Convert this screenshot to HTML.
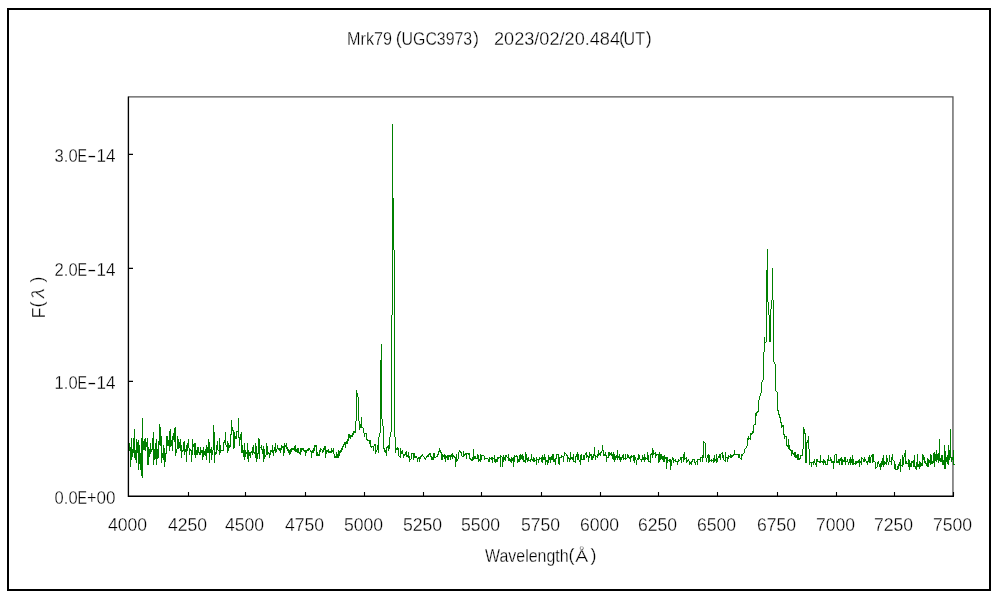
<!DOCTYPE html>
<html lang="ja">
<head>
<meta charset="utf-8">
<title>Mrk79 (UGC3973) 2023/02/20.484(UT)</title>
<style>
html,body{margin:0;padding:0;background:#fff;}
body{width:1000px;height:600px;overflow:hidden;}
svg{display:block;will-change:transform;}
text{font-family:"Liberation Sans", "IPAGothic", sans-serif;font-size:18px;fill:#000;stroke:#fff;stroke-width:0.3px;paint-order:fill stroke;}
.cjk{font-family:"IPAGothic","Noto Sans CJK JP",sans-serif;}
.ang{font-size:19.5px;}
</style>
</head>
<body>
<svg width="1000" height="600" viewBox="0 0 1000 600">
<rect x="0" y="0" width="1000" height="600" fill="#fff"/>
<rect x="8" y="9" width="982" height="581" fill="none" stroke="#000" stroke-width="2"/>
<path d="M128.40 96.90 H952.95 V496.0" fill="none" stroke="#555" stroke-width="1.3"/>
<path fill="none" stroke="#008000" stroke-width="1" shape-rendering="crispEdges" d="M128.5 439.0V450.0M129.5 443.0V451.0M130.5 447.0V467.0M131.5 438.0V460.0M132.5 449.0V457.0M133.5 438.0V453.0M134.5 429.0V458.0M135.5 450.0V460.0M136.5 439.0V463.0M137.5 441.5V453.0M138.5 439.5V470.0M139.5 445.0V464.0M140.5 453.0V470.0M141.5 438.0V476.0M142.5 418.0V478.0M143.5 441.0V450.0M144.5 438.5V450.0M145.5 438.0V451.0M146.5 442.0V447.0M147.5 438.0V465.0M148.5 447.0V465.0M149.5 449.0V457.0M150.5 443.0V454.0M151.5 449.0V452.0M152.5 438.0V450.0M153.5 432.0V465.0M154.5 449.0V460.0M155.5 443.0V459.0M156.5 439.0V465.0M157.5 449.0V459.0M158.5 441.0V458.0M159.5 424.0V445.0M160.5 427.0V446.0M161.5 436.0V463.0M162.5 453.0V458.0M163.5 445.0V460.0M164.5 448.0V467.0M165.5 453.0V462.0M166.5 436.0V454.0M167.5 436.0V446.0M168.5 440.0V446.0M169.5 431.0V451.0M170.5 429.0V447.0M171.5 440.0V446.0M172.5 436.0V451.0M173.5 433.0V440.0M174.5 428.0V442.0M175.5 427.0V456.0M176.5 449.0V453.0M177.5 436.0V449.0M178.5 439.0V449.0M179.5 442.0V448.0M180.5 439.0V451.0M181.5 445.0V458.0M182.5 450.0V452.0M183.5 442.0V451.0M184.5 441.0V455.0M185.5 449.0V452.0M186.5 445.0V461.5M187.5 443.0V451.0M188.5 439.0V448.0M189.5 448.0V454.5M190.5 449.0V451.0M191.5 450.0V461.5M192.5 439.0V455.0M193.5 444.0V447.0M194.5 443.0V455.0M195.5 443.0V457.5M196.5 450.0V455.0M197.5 447.0V455.0M198.5 447.0V453.0M199.5 452.0V454.5M200.5 447.0V454.5M201.5 450.0V453.0M202.5 450.0V459.5M203.5 447.0V457.0M204.5 451.0V455.0M205.5 449.0V456.0M206.5 445.0V459.5M207.5 447.0V453.0M208.5 439.0V453.0M209.5 442.0V462.5M210.5 449.0V453.0M211.5 447.0V459.5M212.5 450.0V455.0M213.5 425.0V450.0M214.5 432.0V462.5M215.5 452.0V455.0M216.5 445.0V454.0M217.5 441.0V450.0M218.5 450.0V451.0M219.5 438.0V455.0M220.5 445.0V453.0M221.5 450.0V451.0M222.5 450.0V451.0M223.5 441.5V450.5M224.5 440.0V442.5M225.5 432.0V445.0M226.5 445.0V446.5M227.5 441.0V453.0M228.5 443.0V450.5M229.5 445.0V448.0M230.5 434.0V447.0M231.5 420.0V435.0M232.5 427.0V431.0M233.5 430.0V448.5M234.5 432.0V447.5M235.5 436.0V439.0M236.5 431.0V438.5M237.5 431.0V432.0M238.5 418.0V438.0M239.5 437.0V445.5M240.5 434.0V440.0M241.5 432.0V453.0M242.5 445.0V453.0M243.5 450.0V457.0M244.5 443.0V459.5M245.5 450.0V457.0M246.5 452.0V454.0M247.5 443.0V459.0M248.5 450.0V461.5M249.5 452.0V456.0M250.5 452.0V457.5M251.5 451.0V452.5M252.5 447.0V454.5M253.5 445.0V453.0M254.5 452.0V453.5M255.5 443.0V458.0M256.5 446.0V461.5M257.5 453.0V459.0M258.5 438.0V453.5M259.5 439.0V459.0M260.5 447.0V448.0M261.5 445.0V449.5M262.5 449.0V453.5M263.5 445.5V461.5M264.5 449.0V459.0M265.5 455.0V457.0M266.5 443.0V455.0M267.5 446.0V454.5M268.5 452.0V453.5M269.5 453.0V458.0M270.5 450.0V454.5M271.5 450.0V451.5M272.5 445.0V453.0M273.5 450.0V455.5M274.5 447.0V451.0M275.5 443.0V452.5M276.5 449.0V451.5M277.5 445.0V449.0M278.5 448.0V450.0M279.5 448.0V451.0M280.5 448.0V452.5M281.5 445.0V450.0M282.5 446.0V448.0M283.5 446.0V455.5M284.5 443.0V453.0M285.5 445.0V447.0M286.5 443.0V449.0M287.5 447.0V451.0M288.5 449.0V453.0M289.5 450.0V454.5M290.5 449.0V454.0M291.5 448.0V452.0M292.5 447.5V449.5M293.5 448.0V450.0M294.5 445.5V451.0M295.5 445.0V452.0M296.5 449.0V452.0M297.5 448.0V452.5M298.5 447.5V452.5M299.5 452.0V454.0M300.5 447.5V454.5M301.5 447.5V452.0M302.5 447.5V450.0M303.5 448.0V451.0M304.5 449.5V452.0M305.5 450.0V455.5M306.5 449.5V452.5M307.5 449.0V451.0M308.5 448.0V450.5M309.5 447.5V450.0M310.5 449.5V451.5M311.5 450.5V457.5M312.5 450.0V452.5M313.5 448.0V452.5M314.5 445.0V451.0M315.5 445.0V446.5M316.5 445.0V455.5M317.5 452.0V455.5M318.5 454.0V455.5M319.5 449.5V455.5M320.5 448.0V452.0M321.5 448.5V450.0M322.5 449.5V452.5M323.5 447.5V452.0M324.5 446.0V450.0M325.5 445.5V457.5M326.5 450.0V454.0M327.5 450.0V452.0M328.5 448.5V452.5M329.5 451.0V452.5M330.5 451.0V452.5M331.5 447.5V452.5M332.5 450.0V452.0M333.5 448.0V454.0M334.5 454.0V457.5M335.5 455.5V457.5M336.5 452.0V457.5M337.5 454.0V457.5M338.5 450.0V457.5M339.5 450.5V455.5M340.5 450.0V452.5M341.5 448.0V452.0M342.5 446.0V450.0M343.5 444.0V447.0M344.5 441.5V445.0M345.5 442.0V447.5M346.5 441.0V444.0M347.5 439.0V443.5M348.5 434.0V441.0M349.5 434.0V438.0M350.5 434.5V438.5M351.5 435.0V437.0M352.5 432.5V436.5M353.5 431.0V435.0M354.5 431.0V432.5M355.5 421.0V432.5M356.5 390.0V421.0M357.5 393.0V397.0M358.5 397.0V421.0M359.5 421.0V429.5M360.5 424.0V427.5M361.5 417.0V427.5M362.5 427.0V428.0M363.5 427.5V433.0M364.5 433.0V436.5M365.5 432.5V434.0M366.5 432.5V439.5M367.5 438.5V441.0M368.5 439.5V441.0M369.5 440.0V443.5M370.5 439.5V447.0M371.5 445.5V447.5M372.5 445.5V447.0M373.5 445.5V450.5M374.5 444.0V446.0M375.5 444.0V454.0M376.5 449.5V452.0M377.5 445.0V450.0M378.5 436.5V452.5M379.5 433.0V437.0M380.5 360.0V433.0M381.5 344.0V419.0M382.5 419.0V426.0M383.5 426.0V448.5M384.5 448.0V451.5M385.5 450.0V453.0M386.5 447.0V455.5M387.5 446.0V447.5M388.5 445.0V450.5M389.5 436.5V448.5M390.5 431.5V436.5M391.5 315.0V431.5M392.5 124.0V315.0M393.5 198.0V250.0M394.5 250.0V436.5M395.5 436.5V452.5M396.5 447.5V450.0M397.5 447.0V450.0M398.5 447.5V456.0M399.5 455.5V457.0M400.5 448.0V457.5M401.5 450.5V454.0M402.5 450.0V454.0M403.5 453.5V457.5M404.5 454.0V455.5M405.5 452.0V455.0M406.5 450.5V457.0M407.5 454.5V457.0M408.5 452.0V458.0M409.5 456.0V461.5M410.5 458.5V460.0M411.5 452.5V459.0M412.5 452.5V454.0M413.5 452.5V459.5M414.5 452.5V457.5M415.5 456.0V457.5M416.5 455.5V458.0M417.5 457.5V461.5M418.5 457.0V459.0M419.5 456.5V461.5M420.5 455.5V459.0M421.5 455.0V456.5M422.5 454.0V456.0M423.5 455.5V457.0M424.5 456.5V458.5M425.5 457.5V459.5M426.5 456.0V458.0M427.5 454.5V456.5M428.5 454.0V457.0M429.5 453.0V454.5M430.5 452.5V456.5M431.5 455.5V459.5M432.5 456.5V459.5M433.5 453.0V459.5M434.5 452.5V457.5M435.5 456.5V457.5M436.5 455.5V457.0M437.5 454.0V456.5M438.5 451.0V454.5M439.5 447.5V451.5M440.5 449.5V453.0M441.5 452.0V459.5M442.5 454.0V459.5M443.5 455.0V457.0M444.5 454.0V459.0M445.5 454.5V461.5M446.5 455.5V457.5M447.5 454.5V459.5M448.5 455.0V459.5M449.5 455.0V457.0M450.5 455.0V459.5M451.5 454.0V457.0M452.5 452.5V459.0M453.5 455.0V457.0M454.5 456.0V457.5M455.5 456.5V466.5M456.5 454.0V461.5M457.5 459.0V461.0M458.5 451.5V459.0M459.5 450.0V452.0M460.5 450.5V452.5M461.5 452.0V456.0M462.5 455.5V457.0M463.5 450.5V457.0M464.5 454.0V455.5M465.5 453.0V454.5M466.5 452.5V459.0M467.5 452.5V454.0M468.5 452.5V455.0M469.5 453.0V459.0M470.5 457.5V459.5M471.5 459.0V461.0M472.5 457.0V461.0M473.5 448.5V459.5M474.5 456.0V459.0M475.5 455.5V459.0M476.5 458.0V459.0M477.5 454.0V458.5M478.5 454.5V461.5M479.5 459.0V460.5M480.5 454.0V461.5M481.5 455.0V459.5M482.5 455.1V456.1M483.5 455.2V456.2M484.5 455.5V459.5M485.5 458.0V459.2M486.5 458.0V459.2M487.5 458.0V459.2M488.5 459.0V461.8M489.5 457.0V461.5M490.5 457.5V459.0M491.5 457.0V460.0M492.5 457.2V462.8M493.5 457.5V459.0M494.5 455.2V461.8M495.5 459.0V462.8M496.5 458.5V461.5M497.5 457.0V461.5M498.5 457.0V459.0M499.5 457.0V458.0M500.5 455.2V466.8M501.5 455.5V457.0M502.5 456.5V466.8M503.5 455.2V461.5M504.5 457.0V460.0M505.5 455.2V461.2M506.5 455.2V457.0M507.5 456.5V458.0M508.5 454.2V461.0M509.5 458.0V461.0M510.5 459.0V461.8M511.5 457.0V462.8M512.5 458.0V461.0M513.5 457.0V466.8M514.5 455.2V461.5M515.5 455.5V457.0M516.5 455.2V456.5M517.5 455.8V462.8M518.5 459.0V461.8M519.5 454.5V461.5M520.5 454.0V459.5M521.5 454.8V458.5M522.5 454.2V459.5M523.5 455.5V461.8M524.5 459.5V461.5M525.5 452.0V462.8M526.5 454.0V459.5M527.5 458.0V461.5M528.5 457.0V461.0M529.5 459.5V461.0M530.5 459.0V461.5M531.5 454.0V460.0M532.5 459.0V461.0M533.5 457.0V461.5M534.5 457.5V461.5M535.5 459.5V460.5M536.5 457.0V464.8M537.5 459.0V460.0M538.5 459.0V462.8M539.5 457.0V459.5M540.5 457.5V459.0M541.5 457.0V461.8M542.5 455.2V462.8M543.5 457.0V459.5M544.5 454.2V459.5M545.5 457.0V464.8M546.5 460.0V461.5M547.5 459.5V464.8M548.5 455.2V462.8M549.5 457.0V460.0M550.5 457.0V462.8M551.5 456.0V460.0M552.5 454.0V460.0M553.5 454.0V461.5M554.5 458.5V461.5M555.5 458.0V464.8M556.5 454.0V458.5M557.5 454.0V455.0M558.5 454.0V464.0M559.5 456.5V464.8M560.5 456.5V457.5M561.5 455.2V457.5M562.5 456.1V457.1M563.5 456.2V461.8M564.5 452.0V456.2M565.5 452.8V454.2M566.5 454.0V455.5M567.5 454.5V461.8M568.5 457.0V459.0M569.5 458.0V461.8M570.5 452.0V460.0M571.5 457.0V458.5M572.5 457.0V460.0M573.5 454.2V461.5M574.5 460.5V461.5M575.5 456.0V462.8M576.5 454.0V457.0M577.5 452.2V459.8M578.5 454.2V459.8M579.5 459.8V461.8M580.5 455.0V464.8M581.5 454.2V459.8M582.5 458.8V459.8M583.5 455.2V459.8M584.5 455.2V459.8M585.5 453.0V455.2M586.5 452.2V457.8M587.5 455.2V457.0M588.5 456.0V461.8M589.5 452.2V458.0M590.5 454.2V456.0M591.5 454.2V459.8M592.5 456.0V459.8M593.5 454.2V458.0M594.5 447.2V455.5M595.5 455.2V459.8M596.5 456.0V457.0M597.5 454.2V457.8M598.5 450.2V455.5M599.5 453.0V455.0M600.5 452.2V455.5M601.5 451.2V453.2M602.5 445.2V451.2M603.5 450.0V455.8M604.5 454.2V455.5M605.5 452.2V455.8M606.5 455.2V461.8M607.5 456.9V457.9M608.5 452.2V457.8M609.5 452.2V456.0M610.5 453.0V454.5M611.5 452.2V456.0M612.5 454.2V458.5M613.5 452.2V459.8M614.5 454.2V461.8M615.5 456.0V459.8M616.5 455.2V458.0M617.5 450.2V459.8M618.5 456.0V458.0M619.5 454.2V460.2M620.5 457.0V461.8M621.5 457.0V459.8M622.5 455.2V458.0M623.5 454.2V459.8M624.5 458.0V459.0M625.5 454.2V459.8M626.5 458.0V459.0M627.5 454.2V458.0M628.5 455.2V458.0M629.5 457.0V459.0M630.5 456.0V461.8M631.5 455.2V457.8M632.5 456.0V457.0M633.5 455.2V461.0M634.5 455.2V462.8M635.5 457.0V459.8M636.5 459.8V464.8M637.5 458.0V459.8M638.5 454.2V459.8M639.5 455.2V459.0M640.5 458.8V459.8M641.5 458.8V461.8M642.5 455.2V459.8M643.5 457.0V459.8M644.5 454.2V461.8M645.5 457.0V459.8M646.5 458.0V459.0M647.5 452.2V459.8M648.5 455.2V461.8M649.5 461.0V462.0M650.5 454.2V462.8M651.5 453.0V454.5M652.5 448.2V457.8M653.5 450.2V455.0M654.5 453.0V454.2M655.5 452.2V457.8M656.5 454.2V456.0M657.5 454.1V455.1M658.5 454.2V462.8M659.5 452.2V461.8M660.5 454.2V459.8M661.5 454.2V459.0M662.5 456.0V459.8M663.5 456.0V461.8M664.5 455.2V461.8M665.5 457.0V459.0M666.5 457.0V468.8M667.5 457.0V462.8M668.5 459.8V460.8M669.5 459.2V462.0M670.5 459.2V469.8M671.5 459.8V465.8M672.5 457.0V459.8M673.5 458.0V462.8M674.5 460.0V461.0M675.5 459.2V461.5M676.5 460.8V461.8M677.5 461.0V464.8M678.5 459.2V461.8M679.5 460.0V461.0M680.5 457.2V460.0M681.5 457.2V462.8M682.5 457.0V458.0M683.5 454.0V461.8M684.5 452.2V459.8M685.5 457.8V459.0M686.5 457.2V462.8M687.5 460.0V461.8M688.5 459.2V461.0M689.5 461.0V464.8M690.5 461.8V463.8M691.5 461.0V464.8M692.5 459.2V461.8M693.5 459.2V460.2M694.5 459.2V462.8M695.5 462.0V464.8M696.5 461.0V462.0M697.5 459.2V464.8M698.5 459.0V460.0M699.5 459.0V460.0M700.5 457.2V461.8M701.5 457.0V458.0M702.5 455.2V461.8M703.5 441.0V457.8M704.5 441.8V443.0M705.5 443.0V458.0M706.5 457.8V461.8M707.5 455.2V458.0M708.5 454.0V462.8M709.5 455.2V461.8M710.5 460.0V461.0M711.5 459.2V461.8M712.5 460.0V461.0M713.5 458.2V462.8M714.5 455.2V461.8M715.5 459.2V461.0M716.5 454.0V462.8M717.5 457.8V461.8M718.5 456.0V457.8M719.5 454.0V457.8M720.5 454.0V459.8M721.5 453.2V454.2M722.5 452.2V457.8M723.5 455.0V459.8M724.5 459.8V461.0M725.5 452.2V461.8M726.5 457.0V458.0M727.5 457.0V461.8M728.5 455.2V458.8M729.5 456.0V457.0M730.5 454.2V457.8M731.5 455.2V457.8M732.5 455.0V456.8M733.5 454.0V455.8M734.5 450.2V454.8M735.5 453.9V454.9M736.5 453.9V454.9M737.5 454.0V455.0M738.5 454.2V457.8M739.5 454.2V457.8M740.5 457.8V459.0M741.5 454.2V459.8M742.5 454.0V455.8M743.5 452.8V454.0M744.5 449.0V452.8M745.5 448.0V449.0M746.5 446.0V448.0M747.5 438.2V446.0M748.5 436.2V439.5M749.5 437.5V439.0M750.5 433.0V439.8M751.5 432.5V434.5M752.5 431.0V433.5M753.5 424.5V433.0M754.5 424.2V425.2M755.5 413.0V425.0M756.5 412.0V416.0M757.5 411.0V412.5M758.5 400.0V411.5M759.5 395.5V400.0M760.5 393.0V395.5M761.5 382.0V393.0M762.5 380.0V382.0M763.5 352.0V380.0M764.5 337.0V352.0M765.5 341.5V342.5M766.5 270.0V342.0M767.5 249.0V302.0M768.5 302.0V314.5M769.5 314.5V342.0M770.5 309.0V342.0M771.5 299.5V309.0M772.5 268.0V299.5M773.5 299.5V361.5M774.5 361.5V363.5M775.5 363.5V390.5M776.5 390.5V392.0M777.5 392.0V411.0M778.5 410.0V414.5M779.5 414.0V417.5M780.5 417.0V422.5M781.5 422.0V428.0M782.5 425.0V427.0M783.5 425.0V435.0M784.5 434.0V439.0M785.5 436.0V437.0M786.5 436.0V446.0M787.5 445.0V447.0M788.5 439.0V449.0M789.5 445.0V449.5M790.5 449.0V450.5M791.5 450.0V456.0M792.5 450.0V454.0M793.5 453.0V454.5M794.5 452.0V457.0M795.5 452.0V458.0M796.5 455.0V457.5M797.5 454.0V460.0M798.5 454.0V460.0M799.5 458.0V459.5M800.5 455.0V459.0M801.5 455.0V456.0M802.5 449.0V456.0M803.5 427.0V449.0M804.5 428.5V433.5M805.5 433.0V462.5M806.5 442.0V462.5M807.5 440.0V442.5M808.5 436.0V449.0M809.5 449.0V465.0M810.5 462.0V463.0M811.5 462.0V466.8M812.5 462.0V463.0M813.5 461.0V464.8M814.5 459.2V463.0M815.5 463.0V464.8M816.5 459.2V466.8M817.5 459.2V462.0M818.5 461.0V462.0M819.5 461.0V462.8M820.5 455.2V462.8M821.5 461.0V462.0M822.5 461.0V463.0M823.5 459.2V464.8M824.5 460.2V463.0M825.5 461.0V464.8M826.5 463.8V464.8M827.5 459.2V464.8M828.5 455.2V460.5M829.5 459.5V460.8M830.5 457.2V461.0M831.5 459.2V462.8M832.5 461.0V462.8M833.5 461.0V468.8M834.5 455.0V462.8M835.5 454.0V455.2M836.5 454.2V462.8M837.5 461.0V462.5M838.5 459.2V463.0M839.5 459.2V464.8M840.5 458.0V461.0M841.5 457.2V464.8M842.5 459.2V464.8M843.5 460.0V462.0M844.5 457.2V462.0M845.5 457.2V464.8M846.5 460.5V462.0M847.5 459.2V462.0M848.5 462.0V464.8M849.5 459.2V463.0M850.5 457.2V464.8M851.5 459.2V463.0M852.5 455.2V464.8M853.5 459.2V464.8M854.5 463.0V464.0M855.5 461.0V464.8M856.5 461.0V464.0M857.5 461.0V462.5M858.5 460.2V462.5M859.5 459.2V466.8M860.5 461.0V463.0M861.5 457.2V464.8M862.5 458.0V459.2M863.5 459.2V461.8M864.5 457.2V461.8M865.5 459.2V461.0M866.5 461.0V462.8M867.5 461.0V464.8M868.5 457.2V462.0M869.5 455.2V462.8M870.5 457.2V462.8M871.5 455.0V457.2M872.5 454.0V462.8M873.5 454.2V461.5M874.5 461.0V462.0M875.5 462.0V468.8M876.5 467.0V468.0M877.5 462.0V467.0M878.5 461.0V464.0M879.5 464.0V466.8M880.5 463.0V469.8M881.5 461.0V466.8M882.5 458.0V464.8M883.5 455.2V466.8M884.5 461.0V464.8M885.5 462.0V464.0M886.5 455.2V464.8M887.5 458.0V462.0M888.5 462.0V464.8M889.5 455.2V462.0M890.5 461.0V462.0M891.5 457.2V464.8M892.5 454.2V459.8M893.5 459.8V461.0M894.5 461.0V468.8M895.5 464.0V469.8M896.5 468.8V469.8M897.5 466.0V469.8M898.5 464.0V468.8M899.5 462.0V466.0M900.5 459.2V471.8M901.5 465.0V466.0M902.5 455.2V466.8M903.5 456.8V464.8M904.5 453.2V456.8M905.5 450.2V464.0M906.5 461.0V464.0M907.5 463.0V464.0M908.5 459.2V466.8M909.5 460.0V469.5M910.5 463.0V467.0M911.5 461.0V466.5M912.5 461.0V463.0M913.5 460.0V466.5M914.5 455.0V466.5M915.5 466.0V469.0M916.5 462.0V469.5M917.5 454.0V467.0M918.5 464.0V466.5M919.5 461.0V468.5M920.5 462.0V466.5M921.5 463.0V466.0M922.5 454.0V466.0M923.5 455.0V460.0M924.5 457.0V463.0M925.5 461.0V464.0M926.5 463.0V466.0M927.5 457.5V466.5M928.5 459.0V466.5M929.5 460.0V463.0M930.5 454.0V464.5M931.5 455.0V464.0M932.5 461.0V464.0M933.5 453.0V463.0M934.5 452.0V466.5M935.5 454.0V461.0M936.5 450.0V461.5M937.5 454.0V460.0M938.5 453.0V462.5M939.5 439.0V461.0M940.5 458.0V461.5M941.5 455.0V462.0M942.5 455.0V464.5M943.5 460.0V465.0M944.5 445.0V468.5M945.5 451.0V468.5M946.5 457.0V462.0M947.5 455.0V464.0M948.5 445.0V464.5M949.5 450.0V460.0M950.5 429.0V458.0M951.5 457.0V462.0M952.5 457.0V460.0M953.5 450.0V464.5M954.5 463.5V464.5"/>
<path d="M128.40 96.5 V496.2 H954.0" fill="none" stroke="#000" stroke-width="1.35"/>
<path d="M188.5 496.2 v-4.3M245.5 496.2 v-4.3M305.5 496.2 v-4.3M364.5 496.2 v-4.3M423.5 496.2 v-4.3M481.5 496.2 v-4.3M541.5 496.2 v-4.3M600.5 496.2 v-4.3M658.5 496.2 v-4.3M717.5 496.2 v-4.3M777.5 496.2 v-4.3M836.5 496.2 v-4.3M894.5 496.2 v-4.3M953.5 496.2 v-4.3M128.4 381.4 h4.6M128.4 268.4 h4.6M128.4 154.4 h4.6" fill="none" stroke="#000" stroke-width="1.1"/>
<text x="107.9" y="531" textLength="39.2" lengthAdjust="spacingAndGlyphs">4000</text>
<text x="167.9" y="531" textLength="39.2" lengthAdjust="spacingAndGlyphs">4250</text>
<text x="224.9" y="531" textLength="39.2" lengthAdjust="spacingAndGlyphs">4500</text>
<text x="284.9" y="531" textLength="39.2" lengthAdjust="spacingAndGlyphs">4750</text>
<text x="343.9" y="531" textLength="39.2" lengthAdjust="spacingAndGlyphs">5000</text>
<text x="402.9" y="531" textLength="39.2" lengthAdjust="spacingAndGlyphs">5250</text>
<text x="460.9" y="531" textLength="39.2" lengthAdjust="spacingAndGlyphs">5500</text>
<text x="520.9" y="531" textLength="39.2" lengthAdjust="spacingAndGlyphs">5750</text>
<text x="579.9" y="531" textLength="39.2" lengthAdjust="spacingAndGlyphs">6000</text>
<text x="637.9" y="531" textLength="39.2" lengthAdjust="spacingAndGlyphs">6250</text>
<text x="696.9" y="531" textLength="39.2" lengthAdjust="spacingAndGlyphs">6500</text>
<text x="756.9" y="531" textLength="39.2" lengthAdjust="spacingAndGlyphs">6750</text>
<text x="815.9" y="531" textLength="39.2" lengthAdjust="spacingAndGlyphs">7000</text>
<text x="873.9" y="531" textLength="39.2" lengthAdjust="spacingAndGlyphs">7250</text>
<text x="932.9" y="531" textLength="39.2" lengthAdjust="spacingAndGlyphs">7500</text>
<text x="54.6" y="504.1"><tspan textLength="23" lengthAdjust="spacingAndGlyphs">0.0</tspan><tspan textLength="9.5" lengthAdjust="spacingAndGlyphs">E</tspan><tspan textLength="9.5" lengthAdjust="spacingAndGlyphs">+</tspan><tspan textLength="19" lengthAdjust="spacingAndGlyphs">00</tspan></text>
<text x="54.6" y="389.1"><tspan textLength="23" lengthAdjust="spacingAndGlyphs">1.0</tspan><tspan textLength="9.5" lengthAdjust="spacingAndGlyphs">E</tspan><tspan textLength="9.5" lengthAdjust="spacingAndGlyphs">-</tspan><tspan textLength="19" lengthAdjust="spacingAndGlyphs">14</tspan></text>
<text x="54.6" y="276.1"><tspan textLength="23" lengthAdjust="spacingAndGlyphs">2.0</tspan><tspan textLength="9.5" lengthAdjust="spacingAndGlyphs">E</tspan><tspan textLength="9.5" lengthAdjust="spacingAndGlyphs">-</tspan><tspan textLength="19" lengthAdjust="spacingAndGlyphs">14</tspan></text>
<text x="54.6" y="162.1"><tspan textLength="23" lengthAdjust="spacingAndGlyphs">3.0</tspan><tspan textLength="9.5" lengthAdjust="spacingAndGlyphs">E</tspan><tspan textLength="9.5" lengthAdjust="spacingAndGlyphs">-</tspan><tspan textLength="19" lengthAdjust="spacingAndGlyphs">14</tspan></text>
<text y="45.2"><tspan x="347" textLength="45" lengthAdjust="spacingAndGlyphs">Mrk79</tspan> <tspan x="395.7" dy="-1.2">(</tspan><tspan x="401.6" dy="1.2" textLength="70.6" lengthAdjust="spacingAndGlyphs">UGC3973</tspan><tspan x="472.9" dy="-1.2">)</tspan> <tspan x="494" dy="1.2" textLength="126" lengthAdjust="spacingAndGlyphs">2023/02/20.484</tspan><tspan x="619" dy="-1.2">(</tspan><tspan x="623.6" dy="1.2" textLength="21.4" lengthAdjust="spacingAndGlyphs">UT</tspan><tspan x="645.7" dy="-1.2">)</tspan></text>
<text y="562"><tspan x="485" textLength="83.6" lengthAdjust="spacingAndGlyphs">Wavelength</tspan><tspan x="568.6" dy="-1">(</tspan><tspan class="cjk ang" x="571.8" dy="1.5">Å</tspan><tspan x="590.6" dy="-1.5">)</tspan></text>
<text transform="translate(44.8,318) rotate(-90)"><tspan x="-0.6" y="0">F</tspan><tspan x="10.4" y="-2">(</tspan><tspan class="cjk" x="15.6" y="0">λ</tspan><tspan x="35.6" y="-2">)</tspan></text>
</svg>
</body>
</html>
